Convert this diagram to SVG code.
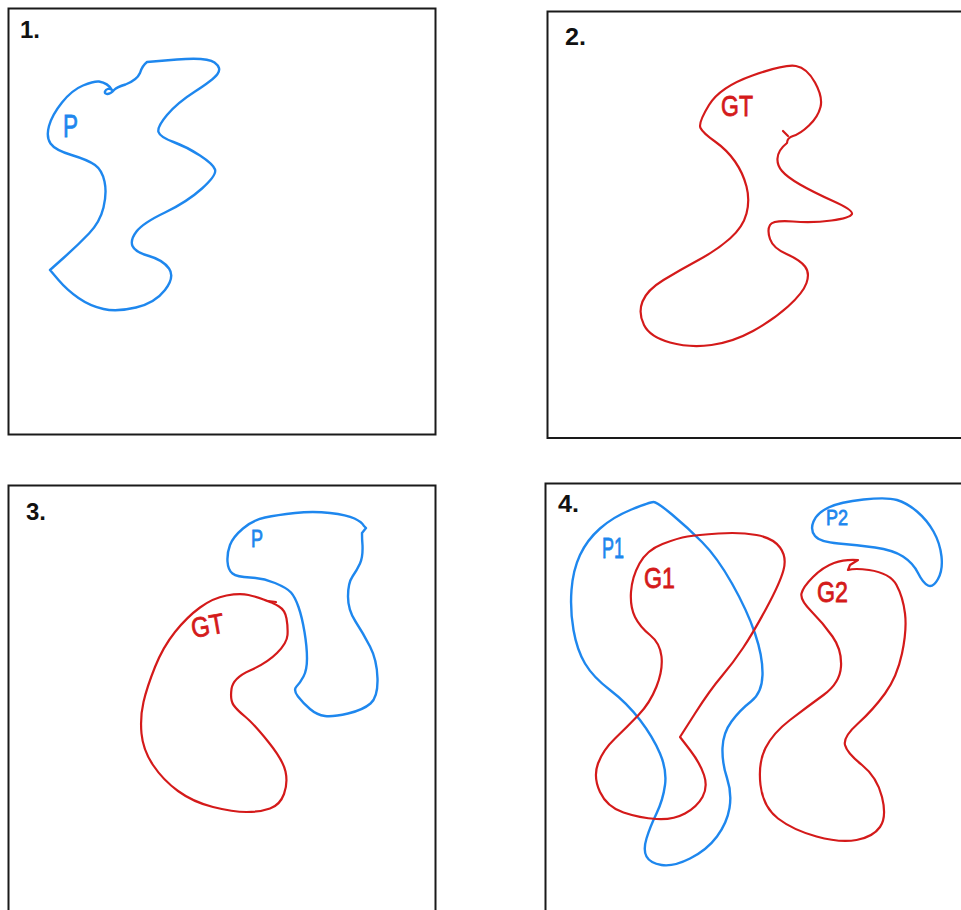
<svg xmlns="http://www.w3.org/2000/svg" width="961" height="910" viewBox="0 0 961 910">
<style>
.box{fill:none;stroke:#1a1a1a;stroke-width:2}
.blue{fill:none;stroke:#1e87ee;stroke-width:2.4;stroke-linejoin:round;stroke-linecap:round}
.red{fill:none;stroke:#d41a1a;stroke-width:2.2;stroke-linejoin:round;stroke-linecap:round}
.num{font-family:"Liberation Sans",Arial,sans-serif;font-size:23px;font-weight:bold;fill:#111}
.lb{font-family:"Liberation Sans",Arial,sans-serif;fill:#1e87ee;stroke:#1e87ee;stroke-width:0.8}
.lr{font-family:"Liberation Sans",Arial,sans-serif;fill:#d41a1a;stroke:#d41a1a;stroke-width:0.8}
</style>
<rect width="961" height="910" fill="#fff"/>
<g id="panel1">
<rect class="box" x="8.5" y="8.5" width="427" height="426"/>
<text class="num" x="20" y="38" textLength="20" lengthAdjust="spacingAndGlyphs">1.</text>
<path class="blue" d="M112,90 Q108,83 99,81.5 Q94,81 83,85.5 Q72,90 62,102.5 Q52,115 49,126 Q46,137 50.5,143.5 Q55,150 71.5,155 Q88,160 95,165 Q102,170 104.5,181.5 Q107,193 103.5,207.5 Q100,222 89,233.5 Q78,245 64,257.5 L50,270 L58.5,280 Q67,290 78.5,298 Q90,306 103.5,309 Q117,312 136,307.5 Q155,303 165,290 Q175,277 169,268.5 Q163,260 149,256 Q135,252 132.5,246 Q130,240 136.5,231.5 Q143,223 165,212.5 Q187,202 202,188.5 Q217,175 215,169.5 Q213,164 200,155.5 Q187,147 173.5,142 Q160,137 158.5,132 Q157,127 167,115 Q177,103 195,91.5 Q213,80 217.5,74 Q222,68 214.5,62.5 Q207,57 177,59.5 L147,62 Q142,66 140,73 Q137,80 125.5,84.5 Q117,87 114,90 C110,95 104,95 105,91.5 C106,88.5 110,88 112,90 Z"/>
<text class="lb" x="63" y="137" font-size="32" textLength="15" lengthAdjust="spacingAndGlyphs">P</text>
</g>
<g id="panel2">
<rect class="box" x="547.5" y="11.5" width="430" height="426.5"/>
<text class="num" x="565" y="45" textLength="21" lengthAdjust="spacingAndGlyphs">2.</text>
<path class="red" d="M709,105 Q720,87 752.5,75.5 Q785,64 796,66 Q807,68 815,82.5 Q823,97 820.5,107 Q818,117 809,125.5 Q800,134 793,136 Q787,138 787,143 Q778,150 777.5,158.5 Q777,165 782,171 Q787,177 800,184.5 Q813,192 833,201 Q853,210 852,214 Q850,218 831.5,220.5 Q813,223 793,221.5 Q773,220 770,225 Q767,230 770,239 Q773,248 786.5,254 Q800,260 805,266.5 Q810,273 806.5,283 Q803,293 788,306.5 Q773,320 753,331 Q733,342 711.5,345 Q690,348 670,342.5 Q650,337 644,325 Q638,313 642.5,301.5 Q647,290 663.5,280 Q680,270 698.5,260 Q717,250 730,238.5 Q743,227 746.5,213.5 Q750,200 746.5,186.5 Q743,173 735,161.5 Q727,150 715,141.5 Q703,133 700.5,128 Q698,123 709,105 Z"/>
<path class="red" d="M788,136 L783,131"/>
<text class="lr" x="721" y="116" font-size="30" textLength="32" lengthAdjust="spacingAndGlyphs">GT</text>
</g>
<g id="panel3">
<rect class="box" x="8.5" y="485.5" width="427" height="440"/>
<text class="num" x="26" y="520" textLength="20" lengthAdjust="spacingAndGlyphs">3.</text>
<path class="blue" d="M230,545 Q233,537 243,528.5 Q253,520 265,517.5 Q277,515 295,513 Q313,511 330,513 Q347,515 354.5,518.5 Q362,522 364,526 L366,528 L362,533 Q362,540 362.5,545 Q363,557 360,563.5 Q357,570 352.5,576.5 Q348,583 348,596.5 Q348,610 355.5,621.5 Q363,633 370,646.5 Q377,660 377.5,678.5 Q378,697 370.5,703.5 Q363,710 348,713.5 Q333,717 325,716 Q317,715 310,709 Q303,703 298,696.5 Q293,690 296.5,686.5 Q300,683 303.5,676.5 Q307,670 307,658.5 Q307,647 304.5,632 Q302,617 298.5,607 Q295,597 291,592.5 Q287,588 275,583 Q263,578 250,577.5 Q237,577 232.5,573.5 Q228,570 227.5,561.5 Q227,553 230,545 Z"/>
<text class="lb" x="251" y="547" font-size="24" textLength="12" lengthAdjust="spacingAndGlyphs">P</text>
<path class="red" d="M279,606.5 Q285,610 286.5,618.5 Q288,627 287.5,635 Q287,643 277,653 Q267,663 250,670.5 Q233,678 231.5,689 Q230,700 233.5,705 Q237,710 245,716.5 Q253,723 268,741.5 Q283,760 285.5,771.5 Q288,783 284,794 Q280,805 270,808.5 Q260,812 246.5,812 Q233,812 213,807 Q193,802 178,791 Q163,780 153,765 Q143,750 141.5,733.5 Q140,717 143.5,702 Q147,687 155,667 Q163,647 175,632 Q187,617 200,607.5 Q213,598 226.5,595.5 Q240,593 248.5,595 Q257,597 263.5,599.5 Q270,602 271.5,602.5 Q273,603 279,606.5 Z"/>
<path class="red" d="M268,601 L276,602"/>
<text class="lr" x="193" y="638" font-size="28" textLength="33" lengthAdjust="spacingAndGlyphs" transform="rotate(-10 193 638)">GT</text>
</g>
<g id="panel4">
<rect class="box" x="545.5" y="483.5" width="430" height="440"/>
<text class="num" x="558" y="512" textLength="21" lengthAdjust="spacingAndGlyphs">4.</text>
<path class="blue" d="M653.5,502 Q657,502 672,514.5 Q687,527 702,542 Q717,557 732,583.5 Q747,610 755,633.5 Q763,657 762.5,675 Q762,693 751,701.5 Q740,710 731.5,721.5 Q723,733 722.5,748 Q722,763 727,778 Q732,793 729.5,808 Q727,823 717,836.5 Q707,850 690,858.5 Q673,867 661.5,865 Q650,863 646.5,856.5 Q643,850 646.5,838.5 Q650,827 656.5,813.5 Q663,800 665,785 Q667,770 660,753.5 Q653,737 640,720 Q627,703 610,690 Q593,677 585,663.5 Q577,650 573.5,630 Q570,610 571.5,590 Q573,570 580,555 Q587,540 600,528.5 Q613,517 631.5,509.5 Q650,502 653.5,502 Z"/>
<path class="red" d="M687.5,536.5 Q697,535 718.5,533.5 Q740,532 756.5,535 Q773,538 780,547.5 Q787,557 783.5,570 Q780,583 766.5,608 Q753,633 743,648 Q733,663 721.5,676.5 Q710,690 695,713.5 L680,737 L690,750 Q700,763 704,775 Q708,787 702.5,797 Q697,807 685,813.5 Q673,820 656.5,819 Q640,818 623.5,812.5 Q607,807 600,792 Q593,777 598,763.5 Q603,750 615,738.5 Q627,727 638.5,715 Q650,703 656.5,686.5 Q663,670 661.5,656.5 Q660,643 650,635 Q640,627 635,617 Q630,607 631,592 Q632,577 639.5,563.5 Q647,550 662.5,544 Q678,538 687.5,536.5 Z"/>
<path class="blue" d="M813.5,521.5 Q817,513 828.5,507.5 Q840,502 863.5,499.5 Q887,497 897,500 Q907,503 917,511.5 Q927,520 933.5,531.5 Q940,543 941.5,556.5 Q943,570 938,579 Q933,588 928,585.5 Q923,583 918,573 Q913,563 903,556.5 Q893,550 875,547.5 Q857,545 838.5,543.5 Q820,542 815,536 Q810,530 813.5,521.5 Z"/>
<path class="red" d="M811.5,611.5 Q800,600 801.5,593.5 Q803,587 813,577 Q823,567 834,563 Q845,559 858,560 L850,565 L848,570 Q855,568 869,570 Q890,573 896.5,585 Q903,597 905,613.5 Q907,630 902,653.5 Q897,677 885,693.5 Q873,710 858,723.5 Q843,737 845,745 Q847,753 862,765 Q877,777 882,797 Q887,817 880,827 Q873,837 856.5,840 Q840,843 816.5,836.5 Q793,830 778,818.5 Q763,807 760.5,785 Q758,763 765.5,748 Q773,733 790,720 Q807,707 823.5,695 Q840,683 841,666.5 Q842,650 832.5,636.5 Q823,623 811.5,611.5 Z"/>
<text class="lb" x="602" y="558" font-size="30" textLength="22" lengthAdjust="spacingAndGlyphs">P1</text>
<text class="lr" x="644" y="588" font-size="30" textLength="31" lengthAdjust="spacingAndGlyphs">G1</text>
<text class="lr" x="817" y="602" font-size="30" textLength="31" lengthAdjust="spacingAndGlyphs">G2</text>
<text class="lb" x="826" y="525" font-size="22" textLength="22" lengthAdjust="spacingAndGlyphs">P2</text>
</g>
</svg>
